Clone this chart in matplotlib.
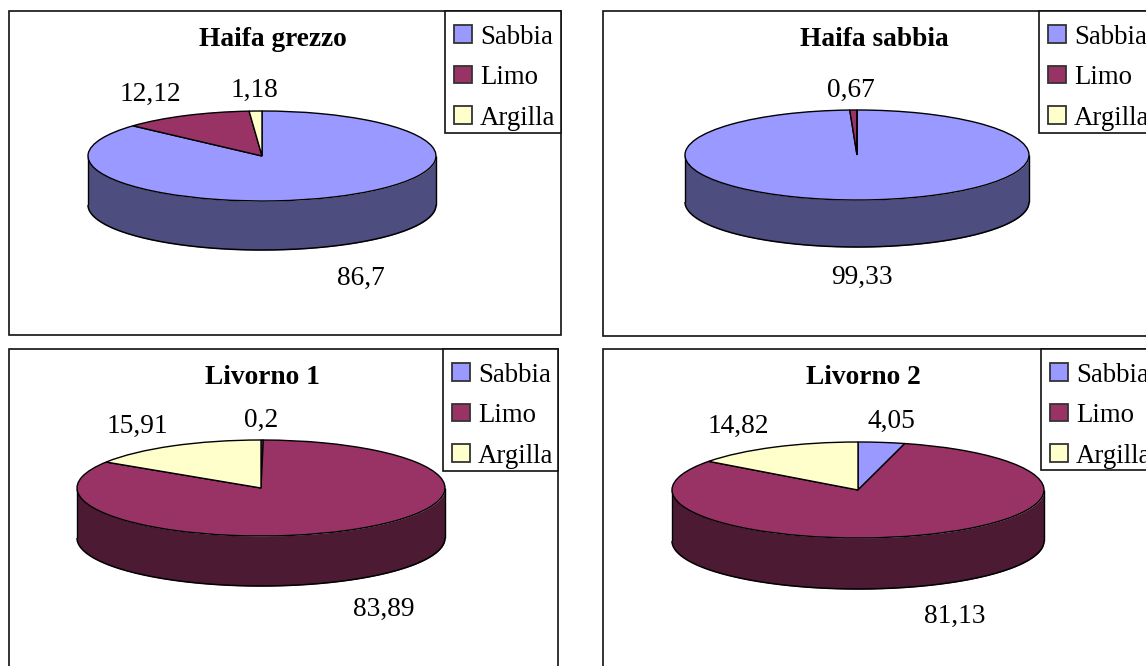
import matplotlib
matplotlib.use("Agg")
import matplotlib.pyplot as plt
import numpy as np
from matplotlib.patches import Rectangle

W, H = 1146, 666

plt.rcParams['font.family'] = ['Liberation Serif', 'DejaVu Serif']

categories = ["Sabbia", "Limo", "Argilla"]
titles = ["Haifa grezzo", "Haifa sabbia", "Livorno 1", "Livorno 2"]
haifa_grezzo = [86.7, 12.12, 1.18]
haifa_sabbia = [99.33, 0.67, 0.0]
livorno_1 = [0.2, 83.89, 15.91]
livorno_2 = [4.05, 81.13, 14.82]
value_labels = [
    ["86,7", "12,12", "1,18"],
    ["99,33", "0,67", None],
    ["0,2", "83,89", "15,91"],
    ["4,05", "81,13", "14,82"],
]
colors = ["#9999ff", "#993366", "#ffffcc"]
side_colors = ["#4d4d80", "#4d1a33", "#808066"]

# panel layout, all in pixels from the top left corner
frames = [(9, 11, 561, 335), (603, 11, 1160, 336), (9, 349, 558, 680), (603, 349, 1160, 680)]
legend_left = [445, 1039, 443, 1041]
legend_bottom = [133, 133, 471, 470]
pie_centers = [(262, 156), (857, 155), (261, 488), (858, 490)]
pie_radii = [(174, 45), (172, 45), (184, 48), (186, 48)]
pie_depth = [49, 47, 50, 51]
title_pos = [(273, 39), (874, 39), (262, 377), (863, 377)]
label_pos = [
    [(361, 278), (150, 94), (254, 90)],
    [(862, 277), (851, 90), None],
    [(261, 420), (384, 609), (137, 426)],
    [(891, 421), (955, 616), (738, 426)],
]


def draw_pie(fig, values, center, radii, depth):
    cx, cy = center
    rx, ry = radii
    d = depth / ry
    ax = fig.add_axes([(cx - rx) / W, 1 - (cy + ry + depth) / H, 2 * rx / W, (2 * ry + depth) / H])
    ax.pie(values, colors=colors, startangle=90, counterclock=False, radius=1,
           wedgeprops=dict(edgecolor="black", linewidth=1.0))
    ax.set_aspect("auto")
    ax.set_xlim(-1, 1)
    ax.set_ylim(-1 - d, 1)
    for patch in ax.patches:
        patch.set_zorder(3)

    # side wall, only the part of every slice facing the viewer
    edges = 90 - np.cumsum([0] + list(values)) * 3.6
    for i in range(len(values)):
        hi, lo = edges[i], edges[i + 1]
        for shift in (0, -360):
            a = max(lo, -180 + shift)
            b = min(hi, 0 + shift)
            if b <= a:
                continue
            t = np.radians(np.linspace(a, b, 200))
            x, y = np.cos(t), np.sin(t)
            ax.fill_between(x, y, y - d, color=side_colors[i], linewidth=0, zorder=1)
            ax.plot(x, y - d, color="black", lw=1.1, zorder=2, clip_on=False,
                    solid_capstyle="butt")
    ax.plot([-1, -1], [0, -d], color="black", lw=1.0, zorder=2, clip_on=False, solid_capstyle="butt")
    ax.plot([1, 1], [0, -d], color="black", lw=1.0, zorder=2, clip_on=False, solid_capstyle="butt")
    ax.patch.set_visible(False)
    return ax


fig = plt.figure(figsize=(W / 100, H / 100), dpi=100, facecolor="white")
page = fig.add_axes([0, 0, 1, 1], zorder=0)
page.set_xlim(0, W)
page.set_ylim(H, 0)
page.axis("off")

all_values = [haifa_grezzo, haifa_sabbia, livorno_1, livorno_2]
for n, values in enumerate(all_values):
    x0, y0, x1, y1 = frames[n]
    page.add_patch(Rectangle((x0, y0), x1 - x0, y1 - y0, fc="white", ec="#111111", lw=1.2))
    draw_pie(fig, values, pie_centers[n], pie_radii[n], pie_depth[n])

    page.text(*title_pos[n], titles[n], fontsize=19.7, fontweight="bold", ha="center", va="center")
    for pos, lab in zip(label_pos[n], value_labels[n]):
        if lab is not None:
            page.text(*pos, lab, fontsize=19.7, ha="center", va="center")

    # legend box
    lx, lb = legend_left[n], legend_bottom[n]
    page.add_patch(Rectangle((lx, y0), x1 - lx, lb - y0, fc="white", ec="#111111", lw=1.2))
    for i, cat in enumerate(categories):
        sy = y0 + 14 + i * 40.5
        page.add_patch(Rectangle((lx + 9, sy), 17.5, 17.5, fc=colors[i], ec="#333333", lw=1.3))
        page.text(lx + 35, sy + 19, cat, fontsize=19.3, ha="left", va="baseline")

fig.savefig("out.png", dpi=100)
